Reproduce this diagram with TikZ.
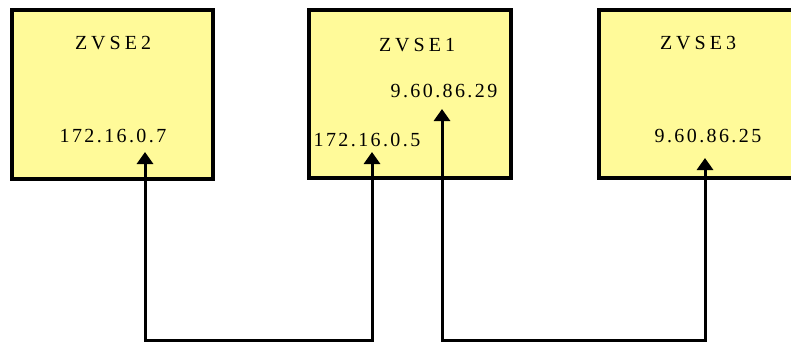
\documentclass[tikz,border=0pt]{standalone}
\usepackage{fontspec}
\setmainfont{Liberation Serif}
\usetikzlibrary{arrows.meta}

\begin{document}
\begin{tikzpicture}[x=1pt,y=-1pt,
  host/.style={draw=black,line width=3.5pt,fill=yellow!40,inner sep=0pt},
  link/.style={line width=3pt,{Triangle[width=16pt,length=12pt]}-{Triangle[width=16pt,length=12pt]}}]
  \tikzstyle{sysname} = [font=\fontsize{20}{22}\selectfont\addfontfeature{LetterSpace=20}]
  \tikzstyle{addr} = [font=\fontsize{20}{22}\selectfont\addfontfeature{LetterSpace=12}]
  \useasboundingbox (0,0) rectangle (791,342);
  \clip (0,0) rectangle (791,342);
  % the three hosts
  \draw[host] (12,10) rectangle (213,179);
  \draw[host] (309,10) rectangle (511,178);
  \draw[host] (599,10) rectangle (801,178);
  \node (zvse2) [sysname] at (113,43) {ZVSE2};
  \node (zvse1) [sysname] at (417,45) {ZVSE1};
  \node (zvse3) [sysname] at (698,43) {ZVSE3};
  % addresses
  \node (ip7) [addr] at (113,136) {172.16.0.7};
  \node (ip5) [addr] at (367,140) {172.16.0.5};
  \node (ip29) [addr] at (444,91) {9.60.86.29};
  \node (ip25) [addr] at (708,136) {9.60.86.25};
  % arrow tips under the addresses
  \coordinate (t7) at (145,152);
  \coordinate (t5) at (372,152);
  \coordinate (t29) at (442,109);
  \coordinate (t25) at (705,158);
  % links
  \draw[link] (t7) -- (t7 |- 0,340) -| (t5);
  \draw[link] (t29) -- (t29 |- 0,340) -| (t25);
\end{tikzpicture}
\end{document}
